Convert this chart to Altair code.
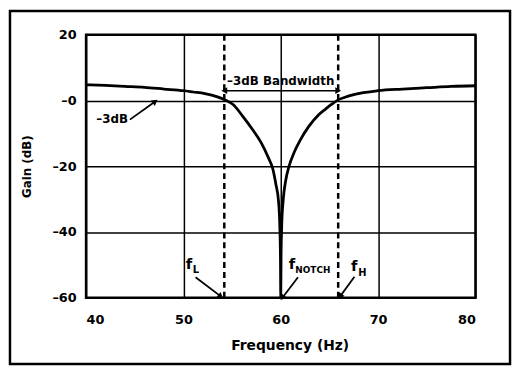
import altair as alt
import pandas as pd

# ---- data ----
freq = [40, 42, 44, 46, 48, 50, 51, 52.2, 53.5, 54.4, 55.1, 56.1, 57.1, 58.0, 58.65,
        59.2, 59.5, 59.77, 59.9, 59.97, 60.0, 60.03, 60.1, 60.24, 60.5, 60.85, 61.36,
        62.03, 62.9, 63.9, 64.6, 65.2, 65.9, 66.6, 67.5, 70, 72.5, 75, 77.5, 80]
gain = [4.8, 4.6, 4.3, 4.0, 3.5, 3.0, 2.6, 2.1, 1.1, 0.0, -1.2, -4.8, -8.8, -12.9, -16.9,
        -21.0, -25.5, -30.6, -38.0, -48.0, -60.0, -48.0, -38.0, -30.6, -24.5, -20.0, -15.9,
        -11.9, -7.8, -4.3, -2.6, -1.2, 0.2, 1.0, 1.8, 3.0, 3.5, 3.9, 4.3, 4.5]

band_edges = [54.2, 65.9]
band_level = 3.0

band_text = ["–3dB Bandwidth"]
band_text_x = [60.0]
band_text_y = [6.0]

db_text = ["–3dB"]
db_text_x = [44.3]
db_text_y = [-5.6]

f_x = [50.56, 61.14, 67.55]
f_y = [-49.9, -49.9, -50.5]
sub_text = ["L", "NOTCH", "H"]
sub_x = [50.95, 61.5, 67.95]
sub_y = [-51.5, -51.7, -52.4]
sub_size = [10, 9, 10]

lead_x1 = [44.5, 51.25, 61.77, 67.57]
lead_y1 = [-5.8, -53.8, -53.8, -53.6]
lead_x2 = [47.1, 53.84, 60.17, 66.1]
lead_y2 = [-0.3, -59.6, -60.0, -59.6]
lead_angle = [54, 127, 217, 216]

x_ticks = [40, 50, 60, 70, 80]
y_ticks = [-60, -40, -20, 0, 20]

FONT = "DejaVu Sans"

xs = alt.Scale(domain=[40, 80], nice=False, zero=False)
ys = alt.Scale(domain=[-60, 20], nice=False, zero=False)

xaxis = alt.Axis(values=x_ticks, title="Frequency (Hz)", grid=True, ticks=False, tickSize=0,
                 domain=False, labelPadding=16, titlePadding=12, titleFontSize=14,
                 labelFontSize=13, titleX=206, titleAlign="center")
yaxis = alt.Axis(values=y_ticks, title="Gain (dB)", grid=True, ticks=False, tickSize=0,
                 domain=False, labelPadding=10, titlePadding=19, titleFontSize=12,
                 labelFontSize=13,
                 labelExpr="datum.value == 0 ? '–0' : (datum.value < 0 ? '–' + abs(datum.value) : '' + datum.value)")


def X(field, **kw):
    return alt.X(field, type="quantitative", scale=xs, axis=xaxis, **kw)


def Y(field, **kw):
    return alt.Y(field, type="quantitative", scale=ys, axis=yaxis, **kw)


curve_df = pd.DataFrame({"f": freq, "g": gain})
edges_df = pd.DataFrame({"f": band_edges})
band_df = pd.DataFrame({"f": [band_edges[0]], "f2": [band_edges[1]], "g": [band_level]})
heads_band_df = pd.DataFrame({"f": band_edges, "g": [band_level, band_level], "a": [270, 90]})
band_lab_df = pd.DataFrame({"t": band_text, "f": band_text_x, "g": band_text_y})
db_lab_df = pd.DataFrame({"t": db_text, "f": db_text_x, "g": db_text_y})
f_df = pd.DataFrame({"f": f_x, "g": f_y})
sub_df = pd.DataFrame({"t": sub_text, "f": sub_x, "g": sub_y, "s": sub_size})
lead_df = pd.DataFrame({"f": lead_x1, "g": lead_y1, "f2": lead_x2, "g2": lead_y2})
heads_df = pd.DataFrame({"f": lead_x2, "g": lead_y2, "a": lead_angle})

frame = alt.Chart(pd.DataFrame({"k": [0]})).mark_rect(
    filled=False, stroke="black", strokeWidth=2.5, clip=False
).encode(x=alt.value(-77), x2=alt.value(429), y=alt.value(-24), y2=alt.value(333))

curve = alt.Chart(curve_df).mark_line(
    color="black", strokeWidth=2.8, interpolate="monotone"
).encode(x=X("f"), y=Y("g"))

edges = alt.Chart(edges_df).mark_rule(
    color="black", strokeWidth=2.5, strokeDash=[6, 4]
).encode(x=X("f"), y=alt.datum(-60, scale=ys), y2=alt.datum(20))

band = alt.Chart(band_df).mark_rule(color="black", strokeWidth=1.6).encode(
    x=X("f"), x2="f2", y=Y("g"))

band_heads = alt.Chart(heads_band_df).mark_point(
    shape="triangle-up", filled=True, color="black", size=45, opacity=1
).encode(x=X("f"), y=Y("g"), angle=alt.Angle("a:Q", scale=None))

band_label = alt.Chart(band_lab_df).mark_text(
    font=FONT, fontWeight="bold", fontSize=12, color="black", baseline="middle", align="center"
).encode(x=X("f"), y=Y("g"), text="t:N")

db_label = alt.Chart(db_lab_df).mark_text(
    font=FONT, fontWeight="bold", fontSize=12, color="black", baseline="middle", align="right"
).encode(x=X("f"), y=Y("g"), text="t:N")

f_labels = alt.Chart(f_df).mark_text(
    text="f", font=FONT, fontWeight="bold", fontSize=15, color="black", baseline="middle", align="center"
).encode(x=X("f"), y=Y("g"))

subs = alt.Chart(sub_df).mark_text(
    font=FONT, fontWeight="bold", color="black", baseline="middle", align="left"
).encode(x=X("f"), y=Y("g"), text="t:N", size=alt.Size("s:Q", scale=None, legend=None))

leads = alt.Chart(lead_df).mark_rule(color="black", strokeWidth=1.8).encode(
    x=X("f"), y=Y("g"), x2="f2", y2="g2")

heads = alt.Chart(heads_df).mark_point(
    shape="triangle-up", filled=True, color="black", size=45, opacity=1
).encode(x=X("f"), y=Y("g"), angle=alt.Angle("a:Q", scale=None))

chart = alt.layer(
    frame, edges, curve, band, band_heads, leads, heads, band_label, db_label, f_labels, subs
).properties(
    width=394, height=266,
    autosize=alt.AutoSizeParams(type="none"),
    padding={"left": 79, "top": 25, "right": 37, "bottom": 69},
    background="white",
).configure_view(
    stroke="black", strokeWidth=2.5
).configure_axis(
    gridColor="black", gridWidth=1.5, gridOpacity=1,
    labelFont=FONT, labelFontWeight="bold", labelColor="black",
    titleFont=FONT, titleFontWeight="bold", titleColor="black",
)

chart.save("out.html", embed_options={"renderer": "svg", "actions": False})
